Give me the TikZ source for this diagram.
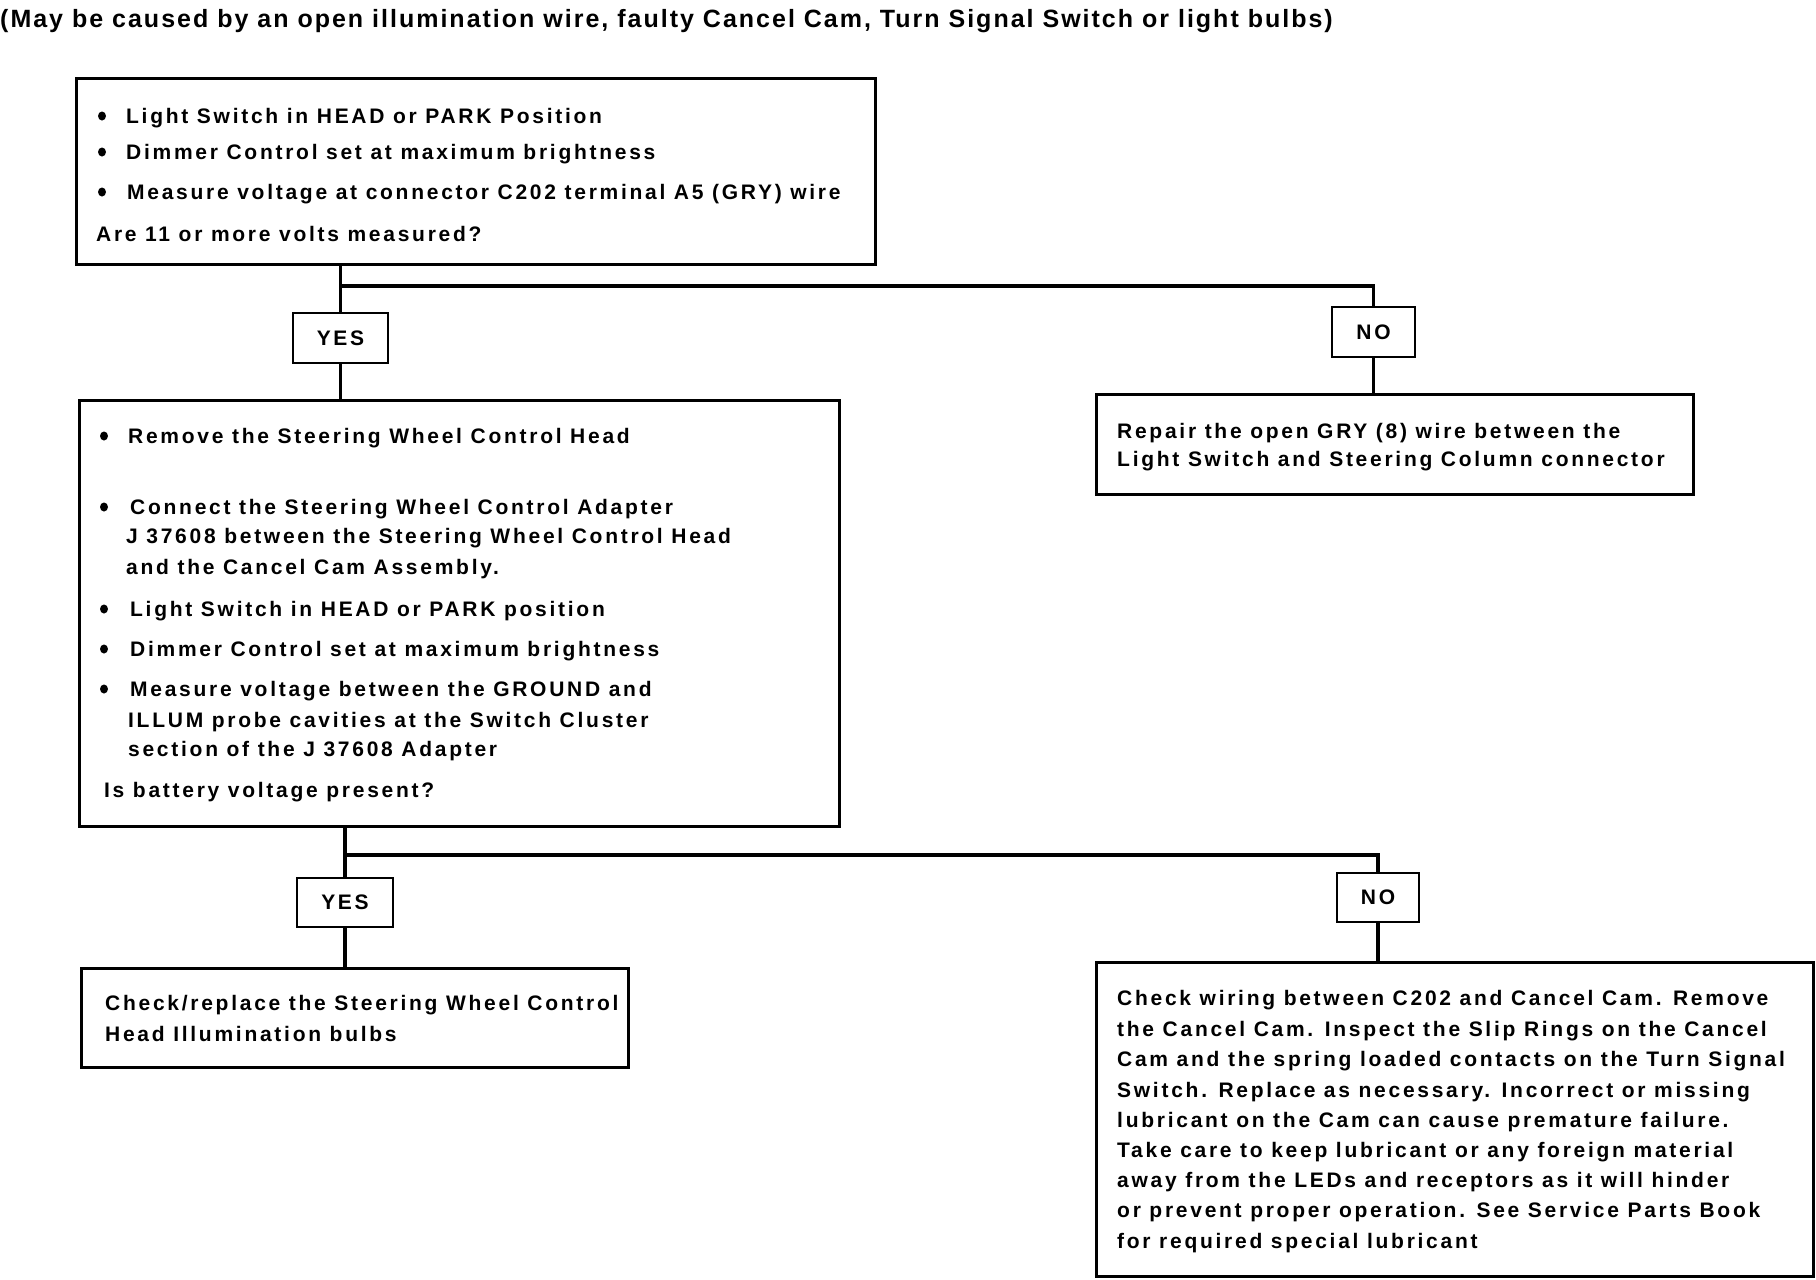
\documentclass[tikz,border=0pt]{standalone}
\usepackage{fontspec}
\usetikzlibrary{shapes.geometric}
\setmainfont{Liberation Sans}
\newfontfamily\boxfont{Liberation Sans}[LetterSpace=13]
\newfontfamily\ttlfont{Liberation Sans}[LetterSpace=8]
\begin{document}
\begin{tikzpicture}[x=1pt,y=-1pt,
  box/.style={draw, line width=2.5pt, inner sep=0, anchor=north west},
  lab/.style={draw, line width=2.5pt, inner sep=0, font=\boxfont\bfseries\fontsize{21}{25}\selectfont},
  txt/.style={anchor=base west, inner sep=0, font=\boxfont\bfseries\fontsize{21}{25}\selectfont},
  ttl/.style={anchor=base west, inner sep=0, font=\ttlfont\bfseries\fontsize{25}{30}\selectfont},
  bul/.style={ellipse, fill, inner sep=0, minimum width=8pt, minimum height=9pt},
  conn/.style={line width=3.5pt}]
\useasboundingbox[fill=white] (0,0) rectangle (1816,1280);

\node[ttl] (title) at (0,27) {(May be caused by an open illumination wire, faulty Cancel Cam, Turn Signal Switch or light bulbs)};

% boxes
\node[box, minimum width=799pt, minimum height=186pt] (b1) at (75,77) {};
\node[box, minimum width=760pt, minimum height=426pt] (b2) at (78,399) {};
\node[box, minimum width=597pt, minimum height=100pt] (b3) at (1095,393) {};
\node[box, minimum width=547pt, minimum height=99pt] (b4) at (80,967) {};
\node[box, minimum width=717pt, minimum height=314pt] (b5) at (1095,961) {};

% labels
\node[lab, minimum width=95pt, minimum height=50pt] (y1) at (340.5,338) {YES};
\node[lab, minimum width=83pt, minimum height=50pt] (n1) at (1373.5,332) {NO};
\node[lab, minimum width=96pt, minimum height=49pt] (y2) at (345,902.5) {YES};
\node[lab, minimum width=82pt, minimum height=49pt] (n2) at (1378,897.5) {NO};

% box 1 text
\node[bul] (b1d1) at (102,116) {};
\node[bul] (b1d2) at (102,152) {};
\node[bul] (b1d3) at (102,192) {};
\node[txt] (b1t1) at (126,123) {Light Switch in HEAD or PARK Position};
\node[txt] (b1t2) at (126,159) {Dimmer Control set at maximum brightness};
\node[txt] (b1t3) at (127,199) {Measure voltage at connector C202 terminal A5 (GRY) wire};
\node[txt] (b1t4) at (96,241) {Are 11 or more volts measured?};

% box 2 text
\node[bul] (b2d1) at (104,436) {};
\node[bul] (b2d2) at (104,507) {};
\node[bul] (b2d3) at (104,609) {};
\node[bul] (b2d4) at (104,649) {};
\node[bul] (b2d5) at (104,689) {};
\node[txt] (b2t1) at (128,443) {Remove the Steering Wheel Control Head};
\node[txt] (b2t2) at (130,514) {Connect the Steering Wheel Control Adapter};
\node[txt] (b2t3) at (126,543) {J 37608 between the Steering Wheel Control Head};
\node[txt] (b2t4) at (126,574) {and the Cancel Cam Assembly.};
\node[txt] (b2t5) at (130,616) {Light Switch in HEAD or PARK position};
\node[txt] (b2t6) at (130,656) {Dimmer Control set at maximum brightness};
\node[txt] (b2t7) at (130,696) {Measure voltage between the GROUND and};
\node[txt] (b2t8) at (128,727) {ILLUM probe cavities at the Switch Cluster};
\node[txt] (b2t9) at (128,756) {section of the J 37608 Adapter};
\node[txt] (b2t10) at (104,797) {Is battery voltage present?};

% box 3 text
\node[txt] (b3t1) at (1117,438) {Repair the open GRY (8) wire between the};
\node[txt] (b3t2) at (1117,466) {Light Switch and Steering Column connector};

% box 4 text
\node[txt] (b4t1) at (105,1010) {Check/replace the Steering Wheel Control};
\node[txt] (b4t2) at (105,1041) {Head Illumination bulbs};

% box 5 text
\foreach \i/\yy/\s in {
  1/1005/{Check wiring between C202 and Cancel Cam. Remove},
  2/1036/{the Cancel Cam. Inspect the Slip Rings on the Cancel},
  3/1066/{Cam and the spring loaded contacts on the Turn Signal},
  4/1097/{Switch. Replace as necessary. Incorrect or missing},
  5/1127/{lubricant on the Cam can cause premature failure.},
  6/1157/{Take care to keep lubricant or any foreign material},
  7/1187/{away from the LEDs and receptors as it will hinder},
  8/1217/{or prevent proper operation. See Service Parts Book},
  9/1248/{for required special lubricant}}
  \node[txt] (b5t\i) at (1117,\yy) {\s};

% connectors
\coordinate (j1) at (340.5,286);
\coordinate (j2) at (345,855);
\draw[conn] (b1.south -| y1.north) -- (y1.north);
\draw[conn] (j1) -| (n1.north);
\draw[conn] (y1.south) -- (y1.south |- b2.north);
\draw[conn] (n1.south) -- (n1.south |- b3.north);
\draw[conn] (b2.south -| y2.north) -- (y2.north);
\draw[conn] (j2) -| (n2.north);
\draw[conn] (y2.south) -- (y2.south |- b4.north);
\draw[conn] (n2.south) -- (n2.south |- b5.north);
\end{tikzpicture}
\end{document}
